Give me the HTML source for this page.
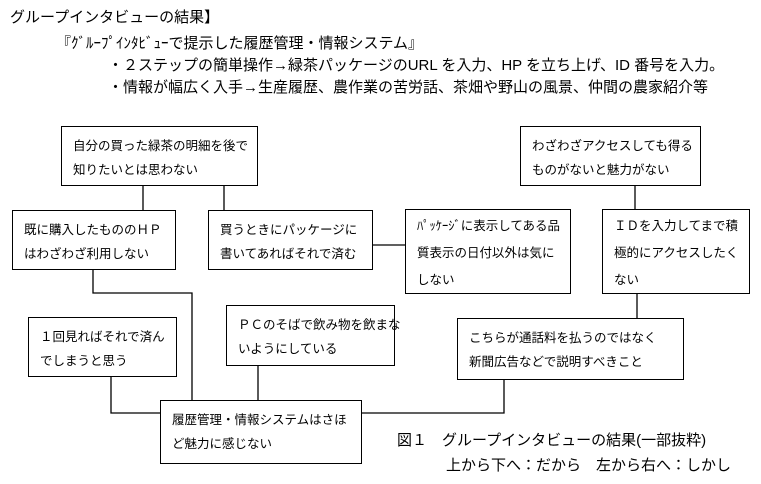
<!DOCTYPE html>
<html><head><meta charset="utf-8"><style>
html,body{margin:0;padding:0;background:#fff;}
body{width:761px;height:484px;position:relative;overflow:hidden;font-family:"Liberation Sans","Noto Sans CJK JP",sans-serif;color:#000;}
.t{position:absolute;white-space:nowrap;font-size:15px;line-height:17px;}
.b{position:absolute;box-sizing:border-box;border:1.5px solid #000;background:#fff;font-size:12.5px;line-height:24px;padding:7px 0 0 11px;white-space:nowrap;}
svg{position:absolute;left:0;top:0;}
</style></head><body>
<svg width="761" height="484"><g stroke="#000" stroke-width="1.3" fill="none">
<path d="M143 185V210M224 185V210"/>
<path d="M93 270V293H192V400"/>
<path d="M372 245H405"/>
<path d="M635 185V210"/>
<path d="M637 293V318"/>
<path d="M111 376V413H160"/>
<path d="M258 365V400"/>
<path d="M361 413H504V379"/>
</g></svg>
<div class="t" style="left:10px;top:9px">グループインタビューの結果】</div>
<div class="t" style="left:56px;top:35px">『ｸﾞﾙｰﾌﾟｲﾝﾀﾋﾞｭｰで提示した履歴管理・情報システム』</div>
<div class="t" style="left:108px;top:57px">・２ステップの簡単操作→緑茶パッケージのURL を入力、HP を立ち上げ、ID 番号を入力。</div>
<div class="t" style="left:108px;top:79px">・情報が幅広く入手→生産履歴、農作業の苦労話、茶畑や野山の風景、仲間の農家紹介等</div>

<div class="b" style="left:61px;top:126px;width:197px;height:60px">自分の買った緑茶の明細を後で<br>知りたいとは思わない</div>
<div class="b" style="left:12px;top:210px;width:164px;height:60px">既に購入したもののＨＰ<br>はわざわざ利用しない</div>
<div class="b" style="left:208px;top:210px;width:165px;height:60px">買うときにパッケージに<br>書いてあればそれで済む</div>
<div class="b" style="left:405px;top:209px;width:166px;height:85px;line-height:27px;padding-top:3px">ﾊﾟｯｹｰｼﾞに表示してある品<br>質表示の日付以外は気に<br>しない</div>
<div class="b" style="left:520px;top:126px;width:181px;height:60px">わざわざアクセスしても得る<br>ものがないと魅力がない</div>
<div class="b" style="left:602px;top:209px;width:148px;height:85px;line-height:27px;padding-top:3px">ＩＤを入力してまで積<br>極的にアクセスしたく<br>ない</div>
<div class="b" style="left:28px;top:317px;width:149px;height:60px">１回見ればそれで済ん<br>でしまうと思う</div>
<div class="b" style="left:226px;top:305px;width:169px;height:61px">ＰＣのそばで飲み物を飲まな<br>いようにしている</div>
<div class="b" style="left:457px;top:318px;width:227px;height:62px">こちらが通話料を払うのではなく<br>新聞広告などで説明すべきこと</div>
<div class="b" style="left:160px;top:400px;width:202px;height:64px">履歴管理・情報システムはさほ<br>ど魅力に感じない</div>
<div class="t" style="left:397px;top:432px">図１　グループインタビューの結果(一部抜粋)</div>
<div class="t" style="left:446px;top:457px">上から下へ：だから　左から右へ：しかし</div>
</body></html>
